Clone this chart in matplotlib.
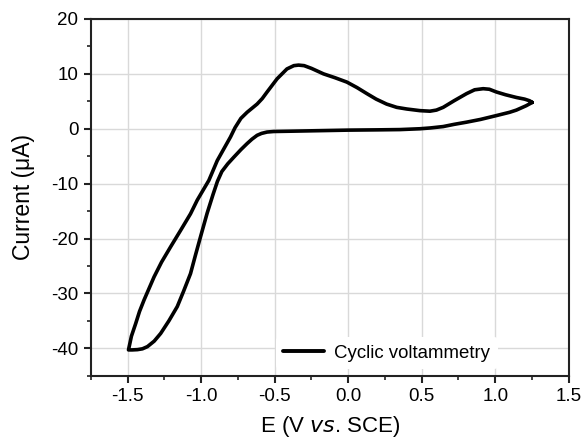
import matplotlib
matplotlib.use("Agg")
import matplotlib.pyplot as plt
from matplotlib.ticker import MultipleLocator

plt.rcParams['font.family'] = ['Liberation Sans', 'DejaVu Sans']

# Cathodic (lower) branch, from the switching point at +1.25 V going negative
E_lower = [1.252, 1.211, 1.144, 1.098, 1.008, 0.90, 0.805, 0.72, 0.646, 0.56, 0.488,
           0.352, 0.2, 0.0, -0.2, -0.4, -0.507, -0.552, -0.59, -0.62, -0.655, -0.688,
           -0.73, -0.779, -0.82, -0.86, -0.89, -0.92, -0.96, -1.005, -1.04, -1.073,
           -1.12, -1.163, -1.22, -1.276, -1.32, -1.366, -1.40, -1.434, -1.47, -1.495]
I_lower = [4.8, 4.2, 3.4, 3.0, 2.4, 1.7, 1.2, 0.8, 0.4, 0.15, 0.0,
           -0.15, -0.2, -0.25, -0.35, -0.45, -0.5, -0.6, -0.85, -1.2, -1.9, -2.7,
           -3.8, -5.2, -6.4, -7.8, -9.6, -12.0, -15.4, -19.7, -23.1, -26.4,
           -29.6, -32.4, -35.0, -37.3, -38.7, -39.7, -40.1, -40.25, -40.3, -40.3]

# Anodic (upper) branch, from -1.5 V back to +1.25 V
E_upper = [-1.495, -1.475, -1.446, -1.42, -1.389, -1.321, -1.27, -1.208, -1.14, -1.073,
           -1.027, -0.948, -0.891, -0.845, -0.801, -0.77, -0.73, -0.688, -0.62, -0.585, -0.552,
           -0.484, -0.417, -0.37, -0.338, -0.30, -0.25, -0.168, -0.09, -0.009, 0.06,
           0.127, 0.19, 0.261, 0.33, 0.398, 0.488, 0.556, 0.60, 0.646, 0.72,
           0.805, 0.86, 0.918, 0.96, 1.008, 1.07, 1.144, 1.20, 1.234, 1.252]
I_upper = [-40.3, -37.8, -35.5, -33.3, -31.2, -27.0, -24.3, -21.5, -18.5, -15.5,
           -13.0, -9.4, -5.8, -3.6, -1.5, 0.2, 1.9, 3.0, 4.5, 5.5, 6.7,
           9.1, 10.9, 11.5, 11.6, 11.5, 11.0, 10.0, 9.3, 8.5, 7.5,
           6.4, 5.4, 4.5, 3.9, 3.6, 3.3, 3.2, 3.4, 3.9, 5.1,
           6.4, 7.1, 7.3, 7.2, 6.7, 6.2, 5.7, 5.4, 5.1, 4.8]

legend_label = "Cyclic voltammetry"

fig = plt.figure(figsize=(5.81, 4.38), dpi=100)
ax = fig.add_axes([91/581, 1 - 375.7/438, (568.7 - 91)/581, (375.7 - 19)/438])

E = E_lower + E_upper
I = I_lower + I_upper
ax.plot(E, I, color='black', lw=2.6, solid_joinstyle='round', solid_capstyle='round',
        label=legend_label, zorder=3)

ax.set_xlim(-1.75, 1.5)
ax.set_ylim(-45, 20)
ax.xaxis.set_minor_locator(MultipleLocator(0.25))
ax.yaxis.set_minor_locator(MultipleLocator(5))
ax.set_xticks([-1.5, -1.0, -0.5, 0.0, 0.5, 1.0, 1.5])
ax.set_xticklabels(['-1.5', '-1.0', '-0.5', '0.0', '0.5', '1.0', '1.5'])
ax.set_yticks([-40, -30, -20, -10, 0, 10, 20])
ax.set_yticklabels(['-40', '-30', '-20', '-10', '0', '10', '20'])

ax.grid(True, which='major', color='#d9d9d9', lw=1.0, zorder=0)
ax.set_axisbelow(True)

for s in ax.spines.values():
    s.set_linewidth(1.5)
    s.set_color('#222222')

ax.tick_params(which='major', direction='out', length=5, width=1.5, labelsize=13.5,
               top=False, right=False, pad=4, color='#222222')
ax.tick_params(which='minor', direction='out', length=3, width=1.2,
               top=False, right=False, color='#222222')

ax.set_xlabel('E (V $\\it{vs}$. SCE)', fontsize=16)
ax.set_ylabel('Current (\u03bcA)', fontsize=16.5)
ax.xaxis.set_label_coords(0.5, -0.108)
ax.yaxis.set_label_coords(-0.118, 0.5)

leg = ax.legend(loc='center left', bbox_to_anchor=(0.387, 0.0636), frameon=True,
                fontsize=13.4, handlelength=2.2, handletextpad=0.55, borderpad=0.4,
                borderaxespad=0)
leg.get_frame().set_facecolor('white')
leg.get_frame().set_edgecolor('none')
leg.get_frame().set_alpha(1.0)
leg.get_lines()[0].set_linewidth(2.8)

fig.savefig('out.png', dpi=100)
